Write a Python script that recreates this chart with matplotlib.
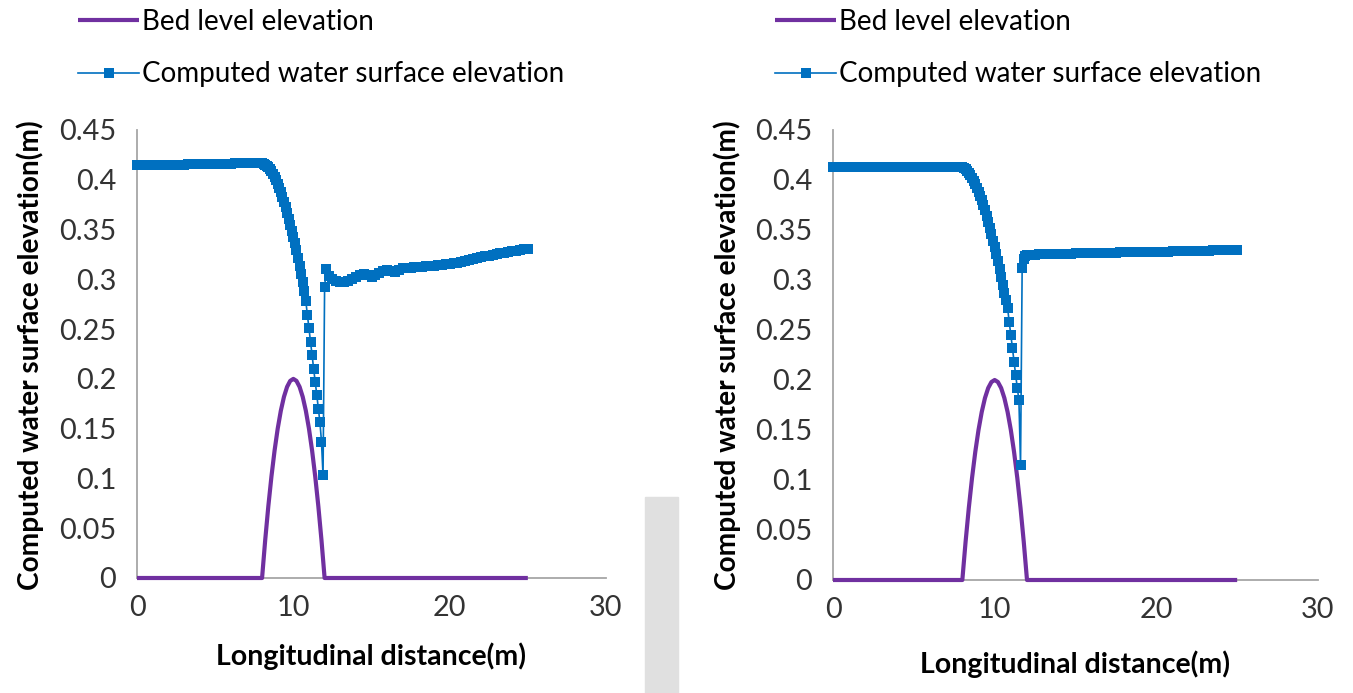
import matplotlib.pyplot as plt
import matplotlib.patches as mpatches
import numpy as np

plt.rcParams['font.family'] = ['Lato', 'DejaVu Sans']

# 河床高程 (两图相同)
bed_x = [0.0, 8.0, 8.2, 8.4, 8.6, 8.8, 9.0, 9.2, 9.4, 9.6, 9.8, 10.0,
         10.2, 10.4, 10.6, 10.8, 11.0, 11.2, 11.4, 11.6, 11.8, 12.0, 25.0]
bed_z = [0.0, 0.0, 0.038, 0.072, 0.102, 0.128, 0.150, 0.168, 0.182, 0.192, 0.198, 0.200,
         0.198, 0.192, 0.182, 0.168, 0.150, 0.128, 0.102, 0.072, 0.038, 0.0, 0.0]

# 左图: 计算水面高程, 分段给出 (起点, 步长, 数值)
ws1_up = [0.415, 0.415, 0.415, 0.415, 0.415, 0.415, 0.415, 0.415,
          0.415, 0.415, 0.415, 0.415, 0.415, 0.416, 0.416, 0.416,
          0.416, 0.416, 0.416, 0.416, 0.416, 0.416, 0.416, 0.416,
          0.416, 0.417, 0.417, 0.417, 0.417, 0.417, 0.417, 0.417]
ws1_drop = [0.417, 0.416, 0.415, 0.414, 0.413, 0.411, 0.409, 0.406, 0.403, 0.400,
            0.396, 0.392, 0.388, 0.383, 0.378, 0.373, 0.367, 0.361, 0.355, 0.349,
            0.343, 0.336, 0.329, 0.321, 0.313, 0.305, 0.297, 0.288, 0.278, 0.264,
            0.251, 0.237, 0.224, 0.210, 0.197, 0.184, 0.170, 0.157, 0.137, 0.103]
ws1_jump = [0.292, 0.310]
ws1_down = [0.303, 0.300, 0.298, 0.297, 0.297, 0.298, 0.300, 0.302, 0.304, 0.305,
            0.304, 0.302, 0.304, 0.306, 0.308, 0.309, 0.308, 0.307, 0.309, 0.311,
            0.311, 0.311, 0.312, 0.312, 0.312, 0.313, 0.313, 0.313, 0.314, 0.314,
            0.315, 0.315, 0.316, 0.316, 0.317, 0.318, 0.319, 0.320, 0.321, 0.322,
            0.323, 0.323, 0.324, 0.325, 0.326, 0.326, 0.327, 0.328, 0.328, 0.329,
            0.330, 0.330]
ws1_segments = [(0.0, 0.25, ws1_up), (8.0, 0.1, ws1_drop),
                (12.0, 0.1, ws1_jump), (12.25, 0.25, ws1_down)]

# 右图: 计算水面高程
ws2_up = [0.413, 0.413, 0.413, 0.413, 0.413, 0.413, 0.413, 0.413,
          0.413, 0.413, 0.413, 0.413, 0.413, 0.413, 0.413, 0.413,
          0.413, 0.413, 0.413, 0.413, 0.413, 0.413, 0.413, 0.413,
          0.413, 0.413, 0.413, 0.413, 0.413, 0.413, 0.413, 0.413]
ws2_drop = [0.413, 0.412, 0.411, 0.409, 0.407, 0.405, 0.402, 0.399, 0.396, 0.392,
            0.388, 0.384, 0.380, 0.375, 0.370, 0.364, 0.358, 0.352, 0.346, 0.339,
            0.333, 0.326, 0.319, 0.311, 0.303, 0.295, 0.287, 0.280, 0.272, 0.258,
            0.245, 0.232, 0.218, 0.205, 0.192, 0.180, 0.115]
ws2_jump = [0.312, 0.321, 0.324]
ws2_down = [0.325, 0.325, 0.325, 0.326, 0.326, 0.326, 0.326, 0.326, 0.326, 0.326,
            0.326, 0.326, 0.327, 0.327, 0.327, 0.327, 0.327, 0.327, 0.327, 0.327,
            0.327, 0.327, 0.327, 0.328, 0.328, 0.328, 0.328, 0.328, 0.328, 0.328,
            0.328, 0.328, 0.328, 0.328, 0.328, 0.328, 0.329, 0.329, 0.329, 0.329,
            0.329, 0.329, 0.329, 0.329, 0.329, 0.329, 0.330, 0.330, 0.330, 0.330,
            0.330, 0.330, 0.330]
ws2_segments = [(0.0, 0.25, ws2_up), (8.0, 0.1, ws2_drop),
                (11.7, 0.1, ws2_jump), (12.0, 0.25, ws2_down)]

x_ticks = [0, 10, 20, 30]
y_ticks = [0, 0.05, 0.1, 0.15, 0.2, 0.25, 0.3, 0.35, 0.4, 0.45]
y_tick_labels = ['0', '0.05', '0.1', '0.15', '0.2', '0.25', '0.3', '0.35', '0.4', '0.45']

BED_COLOR = '#7030A0'
WS_COLOR = '#0070C0'
AXIS_COLOR = '#A6A6A6'


def stations(segments):
    xs, ys = [], []
    for start, step, vals in segments:
        xs.extend(np.round(start + step * np.arange(len(vals)), 3))
        ys.extend(vals)
    return np.array(xs), np.array(ys)


def draw_panel(fig, rect, segments, legend_xy, ylabel_x, xlabel_pad):
    ax = fig.add_axes(rect)
    x, y = stations(segments)
    bed, = ax.plot(bed_x, bed_z, color=BED_COLOR, lw=3.0, solid_capstyle='butt',
                   clip_on=False, zorder=3)
    ws, = ax.plot(x, y, color=WS_COLOR, lw=1.2, marker='s', markersize=7.8,
                  markeredgewidth=0, clip_on=False, zorder=4)
    ax.set_xlim(0, 30)
    ax.set_ylim(0, 0.45)
    ax.set_xticks(x_ticks)
    ax.set_yticks(y_ticks)
    ax.set_yticklabels(y_tick_labels)
    ax.tick_params(length=0, labelsize=20.8, colors='#333333')
    ax.tick_params(axis='y', pad=15)
    ax.tick_params(axis='x', pad=12)
    for side in ['top', 'right']:
        ax.spines[side].set_visible(False)
    for side in ['left', 'bottom']:
        ax.spines[side].set_color(AXIS_COLOR)
        ax.spines[side].set_linewidth(1.3)
    ax.set_xlabel('Longitudinal distance(m)', fontsize=20.5, fontweight='bold',
                  labelpad=xlabel_pad)
    fig.text(ylabel_x, 0.488, 'Computed water surface elevation(m)', rotation=90,
             fontsize=20.2, fontweight='bold', ha='center', va='center')
    ax.legend([bed, ws], ['Bed level elevation', 'Computed water surface elevation'],
              loc='upper left', bbox_to_anchor=legend_xy, bbox_transform=fig.transFigure,
              frameon=False, fontsize=20, handlelength=2.2, handletextpad=0.1,
              labelspacing=0.95, borderpad=0, borderaxespad=0)
    ax.set_zorder(2)
    ax.patch.set_alpha(0)
    return ax


fig = plt.figure(figsize=(13.53, 6.93), dpi=100)

# 中间灰色分隔条
fig.patches.append(mpatches.Rectangle((645 / 1353, 0), 33 / 1353, 196 / 693,
                                      transform=fig.transFigure, color='#E0E0E0', zorder=0))

draw_panel(fig, [137 / 1353, 115 / 693, 469 / 1353, 448 / 693], ws1_segments,
           (78 / 1353, 1 - 9 / 693), 30 / 1353, 16)
draw_panel(fig, [833 / 1353, 113 / 693, 485 / 1353, 450 / 693], ws2_segments,
           (775 / 1353, 1 - 9 / 693), 727 / 1353, 20)

fig.savefig('out.png', dpi=100, facecolor='white')
